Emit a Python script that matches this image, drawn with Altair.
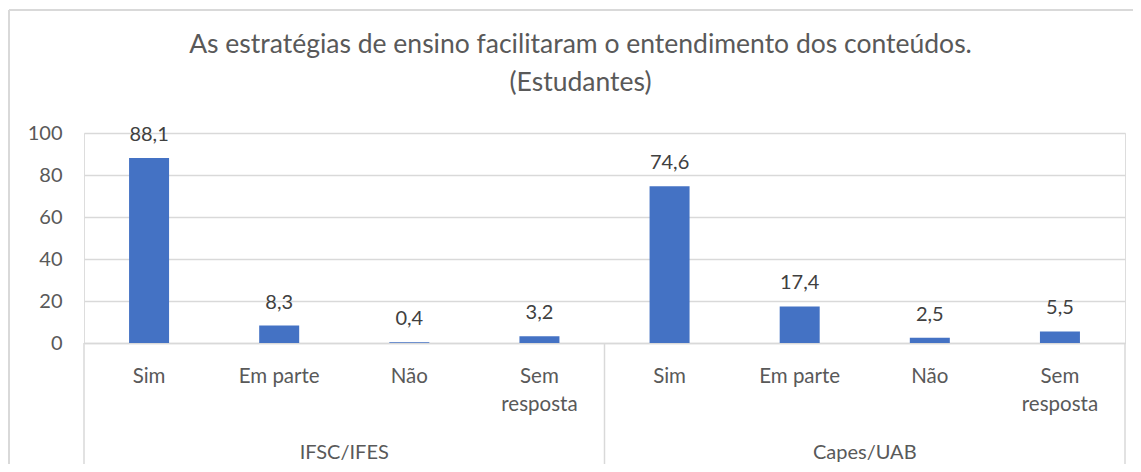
import altair as alt
import pandas as pd

groups = ["IFSC/IFES", "Capes/UAB"]
categories = ["Sim", "Em parte", "Não", "Sem\nresposta"]
ifsc_values = [88.1, 8.3, 0.4, 3.2]
capes_values = [74.6, 17.4, 2.5, 5.5]
y_ticks = [0, 20, 40, 60, 80, 100]
title_lines = ["As estratégias de ensino facilitaram o entendimento dos conteúdos.", "(Estudantes)"]

rows = []
for g, vals in zip(groups, [ifsc_values, capes_values]):
    for c, v in zip(categories, vals):
        rows.append({"group": g, "category": c, "key": g + "|" + c, "value": v,
                     "label": f"{v:.1f}".replace(".", ",")})
df = pd.DataFrame(rows)
domain = list(df["key"])

W, H = 1041, 210
GRAY = "#595959"
LINE = "#d9d9d9"

xscale = alt.Scale(domain=domain, paddingInner=0, paddingOuter=0)
x_enc = alt.X("key:N", scale=xscale, sort=domain, title=None,
              axis=alt.Axis(labelExpr="split(split(datum.label, '|')[1], '\\n')",
                            labelAngle=0, labelFontSize=20.5, labelColor=GRAY, labelFont="Lato",
                            labelLineHeight=28, labelPadding=23, ticks=False,
                            domainColor=LINE, domainWidth=1.5, grid=False))
y_enc = alt.Y("value:Q", scale=alt.Scale(domain=[0, 100]), title=None,
              axis=alt.Axis(values=y_ticks, labelFontSize=20, labelColor=GRAY, labelFont="Lato",
                            labelPadding=22, ticks=False, domain=False,
                            gridColor=LINE, gridWidth=1.5))

bars = alt.Chart(df).mark_bar(size=40, color="#4472C4").encode(x=x_enc, y=y_enc)
texts = alt.Chart(df).mark_text(fontSize=20, color="#404040", font="Lato", baseline="middle", dy=-23).encode(
    x=alt.X("key:N", scale=xscale, sort=domain), y="value:Q", text="label:N")

gdf = pd.DataFrame({"group": groups,
                    "mid": [g + "|" + categories[1] for g in groups],
                    "first": [g + "|" + categories[0] for g in groups]})
group_labels = alt.Chart(gdf).mark_text(fontSize=20, color=GRAY, font="Lato", baseline="middle").encode(
    x=alt.X("mid:N", scale=xscale, sort=domain, bandPosition=1), y=alt.value(H + 110), text="group:N")
sep_left = alt.Chart(gdf).mark_rule(color=LINE, strokeWidth=1.5).encode(
    x=alt.X("first:N", scale=xscale, sort=domain, bandPosition=0), y=alt.value(H), y2=alt.value(H + 121))
sep_right = alt.Chart(pd.DataFrame({"k": [domain[-1]]})).mark_rule(color=LINE, strokeWidth=1.5).encode(
    x=alt.X("k:N", scale=xscale, sort=domain, bandPosition=1), y=alt.value(H), y2=alt.value(H + 121))
border = alt.Chart(pd.DataFrame({"a": [0]})).mark_rule(color=LINE, strokeWidth=2).encode(
    x=alt.value(-75), x2=alt.value(W + 8), y=alt.value(-123))
border_left = alt.Chart(pd.DataFrame({"a": [0]})).mark_rule(color=LINE, strokeWidth=2).encode(
    x=alt.value(-75), y=alt.value(-123), y2=alt.value(H + 121))

chart = alt.layer(bars, texts, group_labels, sep_left, sep_right, border, border_left).properties(
    width=W, height=H,
    autosize=alt.AutoSizeParams(type="none"),
    padding={"left": 76, "top": 125, "right": 8, "bottom": 121},
    title=alt.TitleParams(text=title_lines, fontSize=26.5, font="Lato", color=GRAY, fontWeight="normal",
                          lineHeight=38, anchor="middle", dx=-24, offset=-87),
).configure_view(stroke=None).configure(font="Lato")

chart.save("out.html", embed_options={"renderer": "svg", "actions": False})
